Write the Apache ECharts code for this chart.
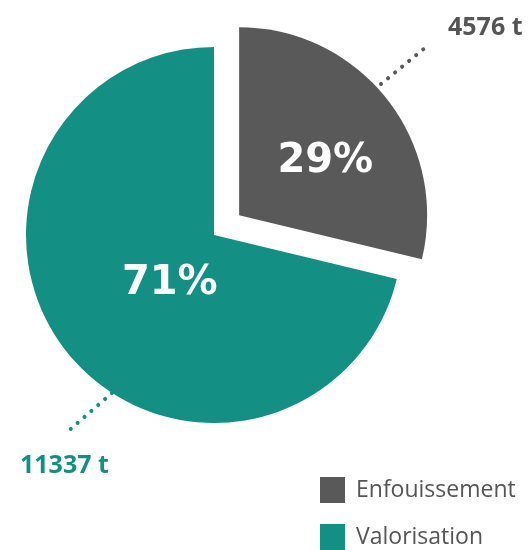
<!DOCTYPE html>
<html>
<head>
<meta charset="utf-8">
<script src="https://cdn.jsdelivr.net/npm/echarts@6/dist/echarts.min.js"></script>
<style>
  html, body { margin: 0; padding: 0; background: #fff; }
  #chart { width: 528px; height: 550px; }
</style>
</head>
<body>
<div id="chart"></div>
<script>
const categories = ['Enfouissement', 'Valorisation']
const tonnes = [4576, 11337]
const colors = ['#595959', '#138f84']

const total = tonnes.reduce((a, b) => a + b, 0)

// where the tonnage labels and their dotted leaders sit
const tonneLabelPos = [
  { x: 448, y: 28, line: [[381, 84], [426, 47]] },
  { x: 20, y: 466, line: [[112, 393], [66, 433]] }
]
// nudges for the percentage labels
const pctNudge = [[10, 6], [32, -11]]

const chart = echarts.init(document.getElementById('chart'))
chart.setOption({
  backgroundColor: '#fff',
  animation: false,
  legend: {
    orient: 'vertical',
    left: 320,
    top: 477,
    padding: 0,
    itemWidth: 25,
    itemHeight: 26,
    itemGap: 21,
    icon: 'rect',
    textStyle: {
      fontFamily: 'Open Sans',
      fontSize: 23,
      color: '#555',
      padding: [0, 0, 0, 6]
    },
    data: categories
  },
  series: [{
    name: 'pct',
    type: 'pie',
    center: [214, 235],
    radius: 188,
    startAngle: 90,
    clockwise: true,
    selectedMode: 'single',
    selectedOffset: 32,
    emphasis: { disabled: true },
    label: {
      position: 'inside',
      formatter: p => Math.round(p.value / total * 100) + '%',
      color: '#fff',
      fontFamily: 'DejaVu Sans',
      fontWeight: 'bold',
      fontSize: 40
    },
    labelLayout: function (params) {
      const n = pctNudge[params.dataIndex]
      return { dx: n[0], dy: n[1] }
    },
    data: categories.map((name, i) => ({
      name: name,
      value: tonnes[i],
      selected: i === 0,
      itemStyle: { color: colors[i] }
    }))
  }, {
    name: 'tonnes',
    type: 'pie',
    center: [214, 235],
    radius: 188,
    startAngle: 90,
    clockwise: true,
    selectedMode: false,
    silent: true,
    itemStyle: { color: 'transparent' },
    label: {
      position: 'outside',
      formatter: '{c} t',
      fontFamily: 'Open Sans',
      fontWeight: 'bold',
      fontSize: 25,
      overflow: 'none'
    },
    labelLine: {
      show: true,
      length: 40,
      length2: 0,
      lineStyle: { type: [0.1, 9], width: 4, cap: 'round' }
    },
    labelLayout: function (params) {
      const p = tonneLabelPos[params.dataIndex]
      return {
        x: p.x,
        y: p.y,
        align: 'left',
        verticalAlign: 'middle',
        labelLinePoints: p.line
      }
    },
    data: categories.map((name, i) => ({
      name: name,
      value: tonnes[i],
      itemStyle: { color: 'transparent' },
      label: { color: i === 0 ? '#555' : colors[1] },
      labelLine: { lineStyle: { color: colors[i] } }
    }))
  }]
})
</script>
</body>
</html>
